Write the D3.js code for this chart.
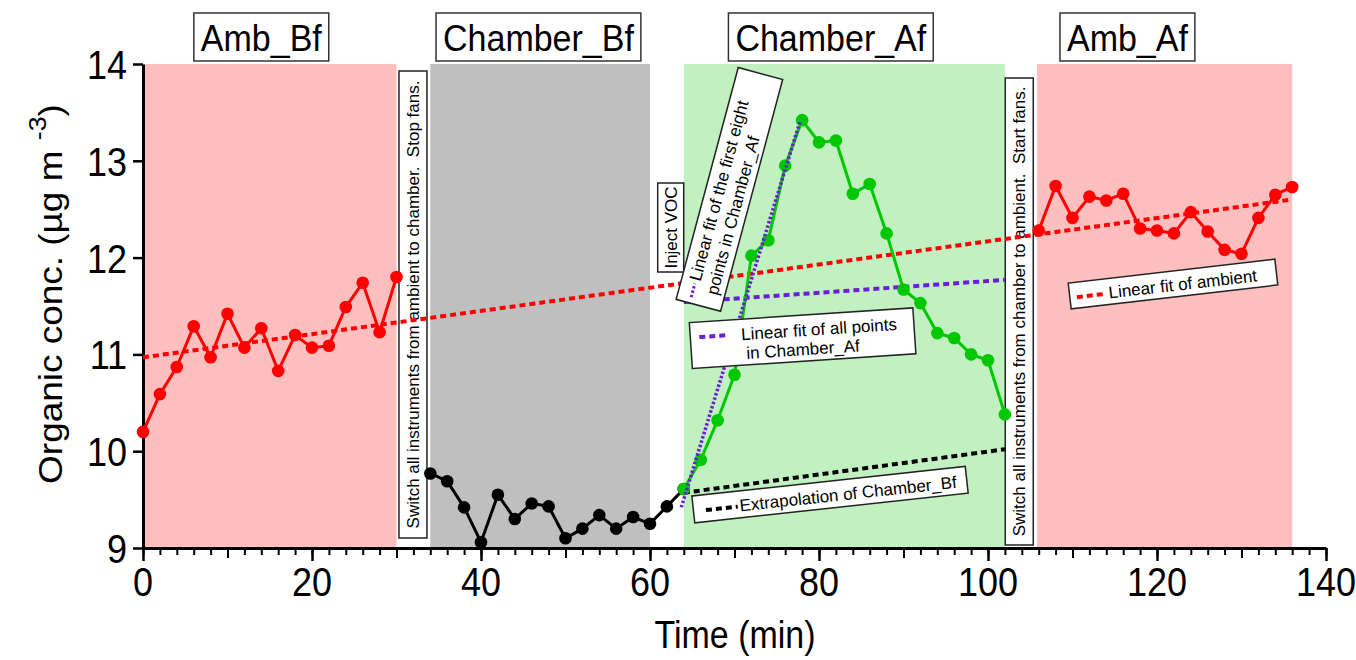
<!DOCTYPE html>
<html>
<head>
<meta charset="utf-8">
<script src="https://cdn.jsdelivr.net/npm/d3@7"></script>
<style>
  html, body { margin: 0; padding: 0; background: #fff; }
  svg { display: block; font-family: "Liberation Sans", Arial, sans-serif; }
</style>
</head>
<body>
<svg id="chart" width="1356" height="660"></svg>
<script>
// ---------------- data ----------------
const timeAmbBf = [0,2,4,6,8,10,12,14,16,18,20,22,24,26,28,30];
const concAmbBf = [10.20,10.59,10.87,11.29,10.97,11.42,11.07,11.27,10.83,11.20,11.07,11.09,11.49,11.74,11.23,11.80];

const timeChamberBf = [34,36,38,40,42,44,46,48,50,52,54,56,58,60,62,64];
const concChamberBf = [9.77,9.69,9.42,9.06,9.55,9.30,9.46,9.43,9.10,9.20,9.34,9.20,9.32,9.25,9.43,9.61];

const timeChamberAf = [64,66,68,70,72,74,76,78,80,82,84,86,88,90,92,94,96,98,100,102];
const concChamberAf = [9.61,9.91,10.32,10.79,12.02,12.18,12.95,13.42,13.19,13.21,12.66,12.76,12.25,11.67,11.53,11.22,11.17,11.00,10.94,10.38];

const timeAmbAf = [106,108,110,112,114,116,118,120,122,124,126,128,130,132,134,136];
const concAmbAf = [12.28,12.74,12.41,12.63,12.59,12.66,12.30,12.28,12.25,12.47,12.27,12.08,12.04,12.41,12.65,12.73];

// fit lines: [start time, end time], [start value, end value]
const fitAmbientT = [0, 136];
const fitAmbientV = [10.97, 12.60];
const fitAllAfT = [64, 102];
const fitAllAfV = [11.54, 11.77];
const fitEightT = [63.7, 77.8];
const fitEightV = [9.42, 13.42];
const extrapBfT = [64, 102];
const extrapBfV = [9.57, 10.02];

// phase shading
const phaseNames = ["Amb_Bf", "Chamber_Bf", "Chamber_Af", "Amb_Af"];
const phaseStart = [0, 34, 64, 105.8];
const phaseEnd = [30, 60, 102, 136];
const phaseLabelT = [14, 46.8, 81.4, 116.5];

const xTicksMajor = [0,20,40,60,80,100,120,140];
const yTicks = [9,10,11,12,13,14];

// ---------------- setup ----------------
const svg = d3.select("#chart");
const x = d3.scaleLinear().domain([0,140]).range([143,1326]);
const y = d3.scaleLinear().domain([9,14]).range([548,64]);

const colors = {
  pink: "#ffbfbf", gray: "#bfbfbf", lightgreen: "#c1f0c1",
  red: "#ff0000", black: "#000000", green: "#00c800", purple: "#6a1fd6"
};
const phaseFill = [colors.pink, colors.gray, colors.lightgreen, colors.pink];

// backgrounds
svg.append("g").selectAll("rect").data(phaseNames).join("rect")
  .attr("x", (d,i) => x(phaseStart[i]))
  .attr("width", (d,i) => x(phaseEnd[i]) - x(phaseStart[i]))
  .attr("y", y(14))
  .attr("height", y(9) - y(14))
  .attr("fill", (d,i) => phaseFill[i]);

// header labels
const hdr = svg.append("g");
phaseNames.forEach((name, i) => {
  const g = hdr.append("g").attr("transform", `translate(${x(phaseLabelT[i])},0)`);
  const t = g.append("text").text(name)
    .attr("text-anchor", "middle").attr("transform", "translate(0,51) scale(1,1.08)")
    .attr("font-size", 34).attr("fill", "#000");
  const w = t.node().getComputedTextLength();
  g.insert("rect", "text")
    .attr("x", -w/2 - 7).attr("y", 13).attr("width", w + 14).attr("height", 48)
    .attr("fill", "#fff").attr("stroke", "#333").attr("stroke-width", 1.5);
});

// vertical annotation boxes
function vbox(tCenter, yTop, yBottom, width, label) {
  const cx = x(tCenter), cy = (yTop + yBottom) / 2;
  const g = svg.append("g").attr("transform", `translate(${cx},${cy}) rotate(-90)`);
  const h = yBottom - yTop;
  g.append("rect").attr("x", -h/2).attr("y", -width/2).attr("width", h).attr("height", width)
    .attr("fill", "#fff").attr("stroke", "#222").attr("stroke-width", 1.5);
  g.append("text").attr("text-anchor", "middle").attr("y", 6)
    .attr("font-size", 17).attr("fill", "#000")
    .style("white-space", "pre").text(label);
}
vbox(31.95, 71, 538, 28, "Switch all instruments from ambient to chamber.\u00a0\u00a0Stop fans.");
vbox(62.45, 183, 272, 26, "Inject VOC");
vbox(103.7, 78, 545, 28, "Switch all instruments from chamber to ambient.\u00a0\u00a0Start fans.");

// ---------------- axes ----------------
const axisG = svg.append("g");
const xMinor = d3.range(0, 141, 2);
const xMid = [10,30,50,70,90,110,130];
axisG.append("g").attr("transform", `translate(0,${y(9)})`)
  .call(d3.axisBottom(x).tickValues(xMinor).tickSize(7).tickSizeOuter(0).tickFormat(""))
  .call(g => g.select(".domain").attr("stroke-width", 3))
  .call(g => g.selectAll(".tick line").attr("stroke-width", 2));
axisG.append("g").attr("transform", `translate(0,${y(9)})`)
  .call(d3.axisBottom(x).tickValues(xMid).tickSize(10).tickSizeOuter(0).tickFormat(""))
  .call(g => g.select(".domain").remove())
  .call(g => g.selectAll(".tick line").attr("stroke-width", 2));
axisG.append("g").attr("transform", `translate(0,${y(9)})`)
  .call(d3.axisBottom(x).tickValues(xTicksMajor).tickSize(13).tickSizeOuter(0).tickFormat(""))
  .call(g => g.select(".domain").remove())
  .call(g => g.selectAll(".tick line").attr("stroke-width", 2.5));
axisG.append("g").attr("transform", `translate(${x(0)},0)`)
  .call(d3.axisLeft(y).tickValues(yTicks).tickSize(10).tickSizeOuter(0).tickFormat(""))
  .call(g => g.select(".domain").attr("stroke-width", 3))
  .call(g => g.selectAll(".tick line").attr("stroke-width", 2.5));

// tick labels (stretched vertically like the reference)
xTicksMajor.forEach(v => {
  axisG.append("text").attr("transform", `translate(${x(v)},${596}) scale(1,1.15)`)
    .attr("text-anchor", "middle").attr("font-size", 36).text(v);
});
yTicks.forEach(v => {
  axisG.append("text").attr("transform", `translate(${x(0) - 16},${y(v) + 15}) scale(1,1.15)`)
    .attr("text-anchor", "end").attr("font-size", 36).text(v);
});

// axis titles
axisG.append("text").attr("transform", `translate(${735},${648}) scale(1,1.15)`)
  .attr("text-anchor", "middle").attr("font-size", 34).text("Time (min)");
const yt = axisG.append("text")
  .attr("transform", `translate(62,${294}) rotate(-90) scale(1.12,1)`)
  .attr("text-anchor", "middle").attr("font-size", 33);
yt.append("tspan").text("Organic  conc. (µg m ");
yt.append("tspan").attr("dy", -16).attr("font-size", 24).text("-3");
yt.append("tspan").attr("dy", 16).text(")");

// ---------------- fit lines ----------------
const line = d3.line().x(d => x(d[0])).y(d => y(d[1]));
function fit(tArr, vArr, color, width, dash) {
  svg.append("path").datum([[tArr[0], vArr[0]], [tArr[1], vArr[1]]])
    .attr("d", line).attr("fill", "none").attr("stroke", color)
    .attr("stroke-width", width).attr("stroke-dasharray", dash);
}
fit(fitAmbientT, fitAmbientV, colors.red, 4, "6,4");
fit(fitAllAfT, fitAllAfV, colors.purple, 4, "6,4");
fit(extrapBfT, extrapBfV, colors.black, 4, "6,4");

// ---------------- data series ----------------
function series(ts, vs, color) {
  const pts = ts.map((t, i) => [t, vs[i]]);
  const g = svg.append("g");
  g.append("path").datum(pts).attr("d", line).attr("fill", "none")
    .attr("stroke", color).attr("stroke-width", 3);
  g.selectAll("circle").data(pts).join("circle")
    .attr("cx", d => x(d[0])).attr("cy", d => y(d[1])).attr("r", 6.3).attr("fill", color);
}
series(timeAmbBf, concAmbBf, colors.red);
series(timeChamberBf, concChamberBf, colors.black);
series(timeChamberAf, concChamberAf, colors.green);
series(timeAmbAf, concAmbAf, colors.red);

// the steep fit drawn above the green series
fit(fitEightT, fitEightV, colors.purple, 3.5, "2.5,2");

// ---------------- rotated legend boxes ----------------
function legendBox(cx, cy, angle, w, h, sample, lines) {
  const g = svg.append("g").attr("transform", `translate(${cx},${cy}) rotate(${angle})`);
  g.append("rect").attr("x", -w/2).attr("y", -h/2).attr("width", w).attr("height", h)
    .attr("fill", "#fff").attr("stroke", "#222").attr("stroke-width", 1.5);
  g.append("line").attr("x1", sample.x1).attr("x2", sample.x2)
    .attr("y1", sample.y).attr("y2", sample.y)
    .attr("stroke", sample.color).attr("stroke-width", sample.width)
    .attr("stroke-dasharray", sample.dash);
  lines.forEach(l => {
    g.append("text").attr("x", l.x).attr("y", l.y).attr("font-size", 17).text(l.text);
  });
}
legendBox(729.4, 189.4, -75, 240, 46,
  {x1: -114, x2: -100, y: -9, color: colors.purple, width: 3, dash: "2.5,2"},
  [{x: -97, y: -4, text: "Linear fit of the first eight"},
   {x: -106, y: 16, text: "points in Chamber_Af"}]);
legendBox(802.6, 338.2, -3.8, 224, 46,
  {x1: -103, x2: -74, y: -8, color: colors.purple, width: 4, dash: "6,4"},
  [{x: -61, y: -2, text: "Linear fit of all points"},
   {x: -57, y: 17, text: "in Chamber_Af"}]);
legendBox(830, 494.6, -6.2, 275, 27,
  {x1: -125, x2: -93, y: 2, color: colors.black, width: 4, dash: "6,4"},
  [{x: -91, y: 7, text: "Extrapolation of Chamber_Bf"}]);
legendBox(1173, 284, -6.6, 208, 26,
  {x1: -97, x2: -67, y: 2, color: colors.red, width: 4, dash: "6,4"},
  [{x: -65, y: 7, text: "Linear fit of ambient"}]);
</script>
</body>
</html>
